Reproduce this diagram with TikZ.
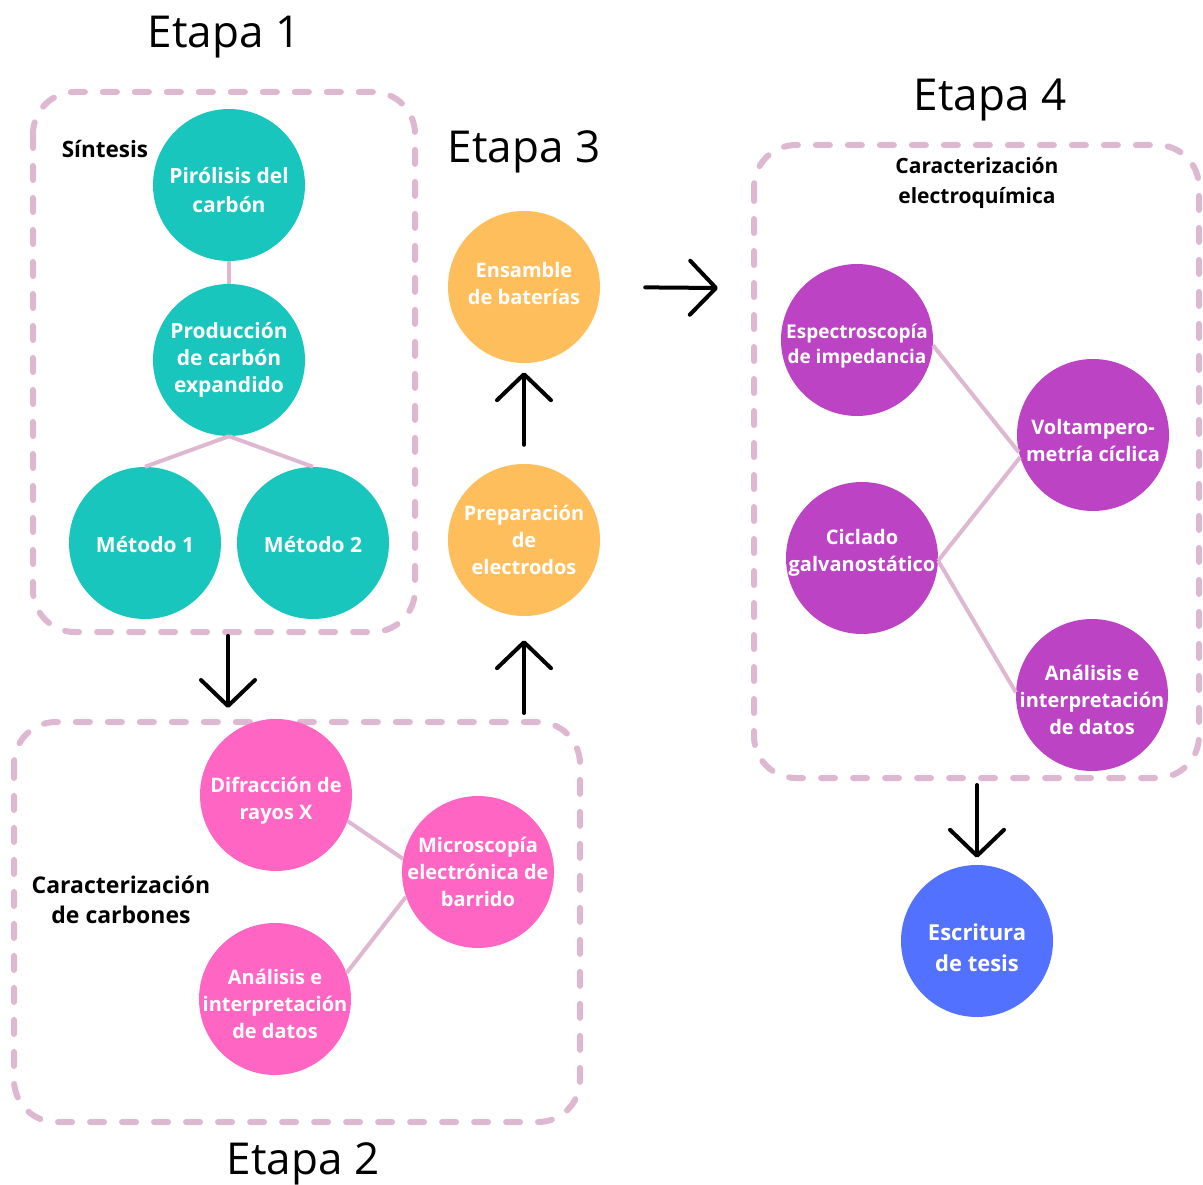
\documentclass[tikz,border=0pt]{standalone}
\usepackage{fontspec}
\setmainfont{Open Sans}
\usepackage{tikz}
\usetikzlibrary{arrows.meta}

\definecolor{verdeazul}{RGB}{25,198,189}
\definecolor{naranja}{RGB}{255,190,92}
\definecolor{rosa}{RGB}{255,102,196}
\definecolor{morado}{RGB}{188,68,196}
\definecolor{azul}{RGB}{82,113,255}
\definecolor{rosapalido}{RGB}{222,183,208}

% puntal para bajar un poco el texto dentro del circulo
\newcommand{\bajar}{\rule{0pt}{26pt}}

\begin{document}
\begin{tikzpicture}[x=1pt, y=-1pt,
    paso/.style={circle, minimum size=152pt, inner sep=-14pt, align=center,
        text=white, font=\fontsize{20}{27}\selectfont\bfseries},
    etapa/.style={font=\fontsize{44}{52}\selectfont},
    rotulo/.style={align=center, font=\fontsize{21}{30}\selectfont\bfseries},
    caja/.style={draw=rosapalido, line width=6pt, line cap=round,
        dash pattern=on 14pt off 18pt, rounded corners=42pt},
    enlace/.style={draw=rosapalido, line width=4pt},
    flecha/.style={draw=black, line width=4pt, line cap=round,
        -{Straight Barb[length=26pt, width=54pt, round]}}]
    \useasboundingbox (0,0) rectangle (1203,1185);

    % marcos de cada etapa
    \draw[caja] (33,92) rectangle (415,632);
    \draw[caja] (14,722) rectangle (580,1122);
    \draw[caja] (754,145) rectangle (1199,778);

    % titulos
    \node[etapa] (etapa1) at (224,37) {Etapa 1};
    \node[etapa] (etapa2) at (303,1164) {Etapa 2};
    \node[etapa] (etapa3) at (524,152) {Etapa 3};
    \node[etapa] (etapa4) at (990,100) {Etapa 4};

    \node[rotulo, font=\fontsize{22.5}{30}\selectfont\bfseries] (sintesis) at (105,149) {Síntesis};
    \node[rotulo, font=\fontsize{23}{30}\selectfont\bfseries] (carbones) at (121,900) {Caracterización\\de carbones};
    \node[rotulo] (electroq) at (977,183) {Caracterización\\electroquímica};

    % etapa 1
    \node[paso, fill=verdeazul, font=\fontsize{21}{29}\selectfont\bfseries] (pirolisis) at (229,185) {\bajar Pirólisis del\\carbón};
    \node[paso, fill=verdeazul, font=\fontsize{21}{27}\selectfont\bfseries] (produccion) at (229,360) {Producción\\de carbón\\expandido};
    \node[paso, fill=verdeazul, font=\fontsize{21}{27}\selectfont\bfseries] (metodo1) at (145,543) {\rule{0pt}{20pt}Método 1};
    \node[paso, fill=verdeazul, font=\fontsize{21}{27}\selectfont\bfseries] (metodo2) at (313,543) {\rule{0pt}{20pt}Método 2};

    % etapa 2
    \node[paso, fill=rosa] (difraccion) at (276,795) {\bajar Difracción de\\rayos X};
    \node[paso, fill=rosa] (microscopia) at (478,872) {Microscopía\\electrónica de\\barrido};
    \node[paso, fill=rosa] (analisis) at (275,999) {\bajar Análisis e\\interpretación\\de datos};

    % etapa 3
    \node[paso, fill=naranja] (preparacion) at (524,540) {Preparación\\de\\electrodos};
    \node[paso, fill=naranja] (ensamble) at (524,287) {Ensamble\\de baterías\rule[-7pt]{0pt}{0pt}};

    % etapa 4
    \node[paso, fill=morado, font=\fontsize{19}{25}\selectfont\bfseries] (impedancia) at (857,340) {\bajar Espectroscopía\\de impedancia};
    \node[paso, fill=morado] (voltametria) at (1093,435) {\bajar Voltampero-\\metría cíclica};
    \node[paso, fill=morado] (ciclado) at (862,558) {Ciclado\\galvanostático\rule[-16pt]{0pt}{0pt}};
    \node[paso, fill=morado] (analisisb) at (1092,695) {\bajar Análisis e\\interpretación\\de datos};

    \node[paso, fill=azul, font=\fontsize{22}{31}\selectfont\bfseries] (tesis) at (977,941) {\rule{0pt}{30pt}Escritura\\de tesis};

    % uniones
    \draw[enlace] (pirolisis) -- (produccion);
    \draw[enlace] (produccion.south) -- (metodo1.north);
    \draw[enlace] (produccion.south) -- (metodo2.north);
    \draw[enlace] (difraccion.-20) -- (microscopia.170);
    \draw[enlace] (analisis.20) -- (microscopia.-161);
    \draw[enlace] (impedancia.-4) -- (voltametria.-167);
    \draw[enlace] (ciclado.-2) -- (voltametria.-163);
    \draw[enlace] (ciclado.-2) -- (analisisb.178);

    % flechas entre etapas
    \coordinate (sale1) at (228,636);
    \coordinate (entra2) at (228,708);
    \coordinate (sale2) at (524,713);
    \coordinate (entra4) at (718,288);
    \coordinate (sale4) at (977,785);
    \draw[flecha] (sale1) -- (entra2);
    \draw[flecha, shorten >=24pt] (sale2) -- (preparacion);
    \draw[flecha, shorten <=19pt, shorten >=9pt] (preparacion) -- (ensamble);
    \draw[flecha, shorten <=45pt] (ensamble.east) -- (entra4);
    \draw[flecha, shorten >=7pt] (sale4) -- (tesis);
\end{tikzpicture}
\end{document}
